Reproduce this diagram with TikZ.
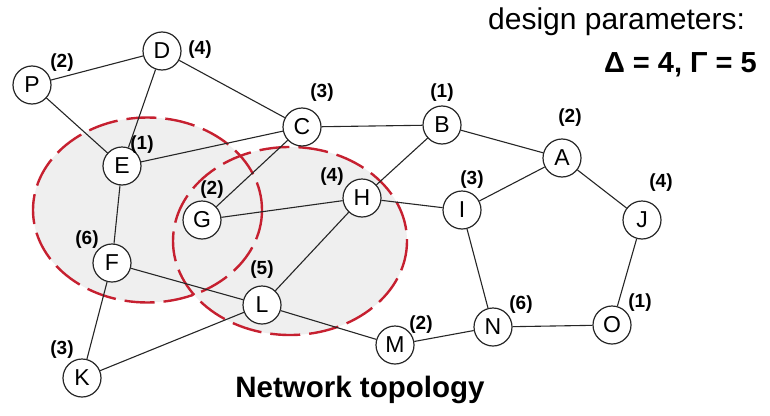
\documentclass[tikz,border=0pt]{standalone}
\usepackage{fontspec}
\setmainfont{Liberation Sans}
\definecolor{zonered}{RGB}{198,32,48}
\definecolor{zonefill}{RGB}{239,239,239}
\begin{document}
\begin{tikzpicture}[x=1pt,y=-1pt,
  vertex/.style={circle,draw=black!85,line width=1.2pt,fill=white,
    minimum size=38pt,inner sep=0pt,font=\fontsize{23}{23}\selectfont},
  deg/.style={font=\bfseries\fontsize{19}{19}\selectfont,inner sep=0pt},
  link/.style={draw=black!85,line width=1.1pt},
  zone/.style={draw=zonered,line width=2.4pt,dash pattern=on 30pt off 9pt},
  caption/.style={inner sep=0pt}]
\useasboundingbox (0,0) rectangle (770,415);

% clusters: shaded areas first, then their dashed outlines
\fill[zonefill] (147.5,210) ellipse [x radius=114.5, y radius=92.5];
\fill[zonefill] (290,241) ellipse [x radius=117, y radius=94];
\draw[zone] (147.5,210) ellipse [x radius=114.5, y radius=92.5];
\draw[zone] (290,241) ellipse [x radius=117, y radius=94];

% vertices
\node[vertex] (P) at (32,85)   {P};
\node[vertex] (D) at (162,51)  {D};
\node[vertex] (E) at (122,166) {E};
\node[vertex] (C) at (302,127) {C};
\node[vertex] (B) at (442,125) {B};
\node[vertex] (A) at (562,158) {A};
\node[vertex] (H) at (362,198) {H};
\node[vertex] (I) at (462,210) {I};
\node[vertex] (J) at (642,220) {J};
\node[vertex] (G) at (202,220) {G};
\node[vertex] (F) at (112,263) {F};
\node[vertex] (L) at (262,305) {L};
\node[vertex] (K) at (82,378)  {K};
\node[vertex] (M) at (395,345) {M};
\node[vertex] (N) at (493,327) {N};
\node[vertex] (O) at (612,325) {O};

% links
\foreach \a/\b in {P/D,P/E,D/E,D/C,E/C,C/B,C/G,B/H,B/A,A/I,A/J,J/O,O/N,N/I,
                   I/H,H/G,H/L,E/F,F/L,F/K,K/L,L/M,M/N}
  \draw[link] (\a) -- (\b);

% degree labels
\node[deg] (dP) at (62,63)   {(2)};
\node[deg] (dD) at (200,50)  {(4)};
\node[deg] (dE) at (142,145) {(1)};
\node[deg] (dC) at (322,93)  {(3)};
\node[deg] (dB) at (442,93)  {(1)};
\node[deg] (dH) at (332,177) {(4)};
\node[deg] (dI) at (472,180) {(3)};
\node[deg] (dA) at (570,118) {(2)};
\node[deg] (dJ) at (661,183) {(4)};
\node[deg] (dG) at (212,190) {(2)};
\node[deg] (dF) at (87,240)  {(6)};
\node[deg] (dL) at (262,270) {(5)};
\node[deg] (dK) at (62,350)  {(3)};
\node[deg] (dM) at (421,325) {(2)};
\node[deg] (dN) at (521,305) {(6)};
\node[deg] (dO) at (640,303) {(1)};

% captions
\node[caption,anchor=base west,font=\fontsize{30}{30}\selectfont]
  (params) at (488,29) {design parameters:};
\node[caption,anchor=base east,font=\bfseries\fontsize{29}{29}\selectfont]
  (values) at (757,72) {Δ = 4, Γ = 5};
\node[caption,anchor=base,font=\bfseries\fontsize{29.5}{29.5}\selectfont]
  (title) at (360,397) {Network topology};
\end{tikzpicture}
\end{document}
